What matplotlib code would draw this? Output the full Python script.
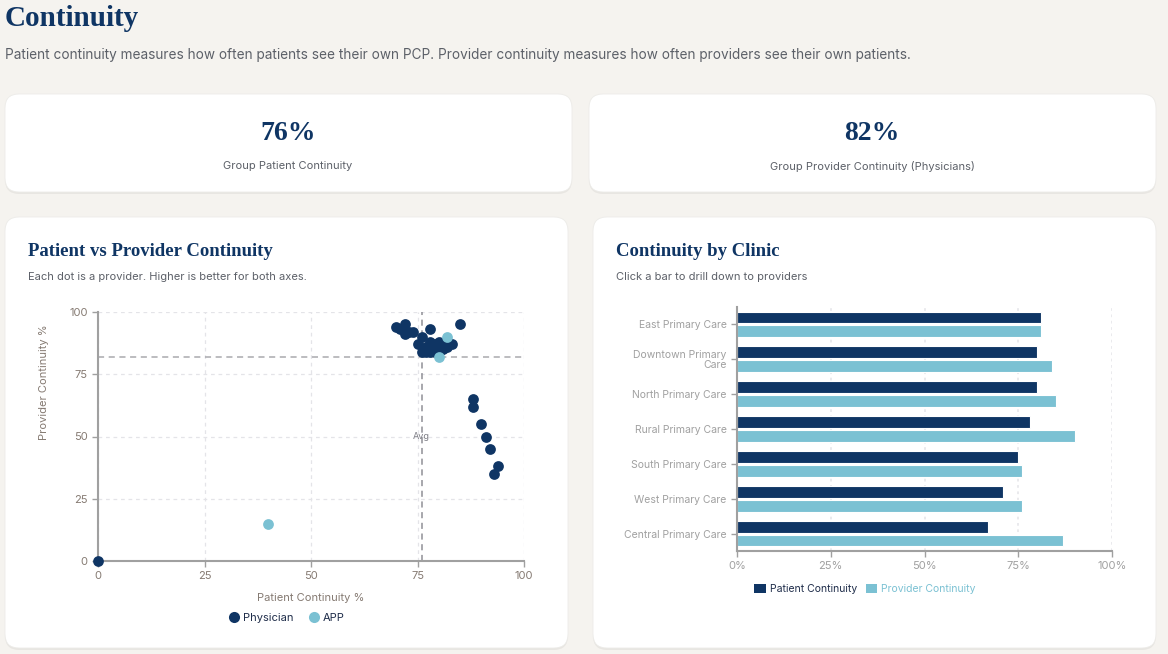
import matplotlib
matplotlib.use("Agg")
import matplotlib.pyplot as plt
from matplotlib.patches import FancyBboxPatch, Patch
from matplotlib.lines import Line2D

W, H = 1168, 654
NAVY = "#0f3564"
LIGHT = "#7bc1d3"
BG = "#f5f3ef"
TXT = "#5c6068"
AXTXT = "#857a72"
SERIF = "Liberation Serif"
SANS = "Inter"

# header / KPI cards
page_title = "Continuity"
page_sub = ("Patient continuity measures how often patients see their own PCP. "
            "Provider continuity measures how often providers see their own patients.")
kpi_values = ["76%", "82%"]
kpi_labels = ["Group Patient Continuity", "Group Provider Continuity (Physicians)"]

# scatter: patient vs provider continuity per provider
phys_patient = [0, 70, 71, 72, 72, 73, 74, 78, 85, 76, 75, 76, 77, 78, 79, 80,
                78, 79, 80, 80, 81, 81, 82, 82, 83, 79, 77,
                88, 88, 90, 91, 92, 94, 93]
phys_provider = [0, 94, 93, 95, 91, 92, 92, 93, 95, 90, 87, 84, 84, 84, 84, 84,
                 88, 87, 86, 88, 85, 87, 86, 87, 87, 85, 86,
                 65, 62, 55, 50, 45, 38, 35]
app_patient = [40, 82, 80]
app_provider = [15, 90, 82]
avg_patient = 76
avg_provider = 82

# bars: continuity by clinic
clinics = ["East Primary Care", "Downtown Primary\nCare", "North Primary Care",
           "Rural Primary Care", "South Primary Care", "West Primary Care",
           "Central Primary Care"]
clinic_patient = [81, 80, 80, 78, 75, 71, 67]
clinic_provider = [81, 84, 85, 90, 76, 76, 87]


def rect(x0, y0, x1, y1):
    return [x0 / W, 1 - y1 / H, (x1 - x0) / W, (y1 - y0) / H]


def card(ax, x0, y0, x1, y1):
    sh = FancyBboxPatch((x0, y0 + 2), x1 - x0, y1 - y0,
                        boxstyle="round,pad=0,rounding_size=14",
                        fc="#000000", ec="none", alpha=0.05)
    ax.add_patch(sh)
    bx = FancyBboxPatch((x0, y0), x1 - x0, y1 - y0,
                        boxstyle="round,pad=0,rounding_size=14",
                        fc="white", ec="#ecebe8", lw=0.6)
    ax.add_patch(bx)


fig = plt.figure(figsize=(W / 100, H / 100), dpi=100, facecolor=BG)
bg = fig.add_axes([0, 0, 1, 1])
bg.set_xlim(0, W)
bg.set_ylim(H, 0)
bg.axis("off")

bg.text(5, 19, page_title, family=SERIF, fontweight="bold", fontsize=21,
        color=NAVY, va="center")
bg.text(5, 55, page_sub, family=SANS, fontsize=9.8, color=TXT, va="center")

card(bg, 5, 94, 572, 192)
card(bg, 589, 94, 1156, 192)
card(bg, 5, 217, 568, 648)
card(bg, 593, 217, 1156, 648)

for cx, val, lab in zip([288, 872], kpi_values, kpi_labels):
    bg.text(cx, 134, val, family=SERIF, fontweight="bold", fontsize=20,
            color=NAVY, ha="center", va="center")
    bg.text(cx, 166, lab, family=SANS, fontsize=8, color=TXT,
            ha="center", va="center")

bg.text(28, 251, "Patient vs Provider Continuity", family=SERIF,
        fontweight="bold", fontsize=13.5, color=NAVY, va="center")
bg.text(28, 277, "Each dot is a provider. Higher is better for both axes.",
        family=SANS, fontsize=8, color=TXT, va="center")
bg.text(616, 251, "Continuity by Clinic", family=SERIF,
        fontweight="bold", fontsize=13.5, color=NAVY, va="center")
bg.text(616, 277, "Click a bar to drill down to providers",
        family=SANS, fontsize=8, color=TXT, va="center")

# ---- scatter
ax1 = fig.add_axes(rect(98, 312, 524, 561))
ax1.set_xlim(0, 100)
ax1.set_ylim(0, 100)
ticks = [0, 25, 50, 75, 100]
ax1.set_xticks(ticks)
ax1.set_yticks(ticks)
ax1.grid(True, color="#e4e4e8", linestyle=(0, (3, 3)), lw=0.9)
ax1.set_axisbelow(True)
for s in ["top", "right"]:
    ax1.spines[s].set_visible(False)
for s in ["left", "bottom"]:
    ax1.spines[s].set_color("#a0a0a0")
    ax1.spines[s].set_linewidth(1.5)
ax1.tick_params(colors="#a0a0a0", labelcolor=AXTXT, labelsize=8, length=4,
                width=1)
for lab in ax1.get_xticklabels() + ax1.get_yticklabels():
    lab.set_family(SANS)
ax1.axvline(avg_patient, color="#8f8f96", ls=(0, (4, 3)), lw=1.1, zorder=1)
ax1.axhline(avg_provider, color="#a9a9ae", ls=(0, (4, 3)), lw=1.1, zorder=1)
ax1.text(avg_patient, 50, "Avg", family=SANS, fontsize=6.5, color="#7d7d85",
         ha="center", va="center")
ax1.scatter(phys_patient, phys_provider, s=60, color=NAVY, lw=0, zorder=3,
            clip_on=False)
ax1.scatter(app_patient, app_provider, s=60, color=LIGHT, lw=0, zorder=3,
            clip_on=False)
ax1.set_xlabel("Patient Continuity %", family=SANS, fontsize=8, color=AXTXT,
               labelpad=8)
fig.text(44 / W, 1 - 382 / H, "Provider Continuity %", family=SANS,
         fontsize=8, color=AXTXT, rotation=90, ha="center", va="center")

h1 = [Line2D([], [], marker="o", ls="none", ms=8, color=NAVY, mew=0),
      Line2D([], [], marker="o", ls="none", ms=8, color=LIGHT, mew=0)]
leg1 = fig.legend(h1, ["Physician", "APP"], loc="center",
                  bbox_to_anchor=(286 / W, 1 - 618 / H), ncol=2, frameon=False,
                  prop={"family": SANS, "size": 8}, handletextpad=0.2,
                  columnspacing=1.2, handlelength=1.2)
for t in leg1.get_texts():
    t.set_color("#1f2d4a")

# ---- bars
ax2 = fig.add_axes(rect(737, 307, 1112, 551))
ypos = list(range(len(clinics)))
ax2.barh([y - 0.2 for y in ypos], clinic_patient, height=0.34, color=NAVY,
         edgecolor="white", lw=0.8, zorder=2)
ax2.barh([y + 0.2 for y in ypos], clinic_provider, height=0.34, color=LIGHT,
         edgecolor="white", lw=0.8, zorder=2)
ax2.set_ylim(6.5, -0.5)
ax2.set_xlim(0, 100)
ax2.set_yticks(ypos)
ax2.set_yticklabels(clinics, family=SANS, fontsize=7.5, color=TXT,
                    ha="right", linespacing=1.0)
ax2.set_xticks(ticks)
ax2.set_xticklabels([f"{t}%" for t in ticks], family=SANS, fontsize=8,
                    color=AXTXT)
ax2.grid(True, axis="x", color="#e8e8ec", linestyle=(0, (1.5, 2)), lw=1.3)
ax2.set_axisbelow(True)
for s in ["top", "right"]:
    ax2.spines[s].set_visible(False)
for s in ["left", "bottom"]:
    ax2.spines[s].set_color("#a0a0a0")
    ax2.spines[s].set_linewidth(1.5)
ax2.tick_params(colors="#a0a0a0", length=4, width=1)

h2 = [Patch(fc=NAVY, ec="none"), Patch(fc=LIGHT, ec="none")]
leg2 = fig.legend(h2, ["Patient Continuity", "Provider Continuity"],
                  loc="center", bbox_to_anchor=(865 / W, 1 - 589 / H), ncol=2,
                  frameon=False, prop={"family": SANS, "size": 7.5},
                  handletextpad=0.4, columnspacing=0.8, handlelength=1.1,
                  handleheight=0.9)
leg2.get_texts()[0].set_color("#1f2d4a")
leg2.get_texts()[1].set_color(LIGHT)

fig.savefig("out.png", dpi=100, facecolor=BG)
